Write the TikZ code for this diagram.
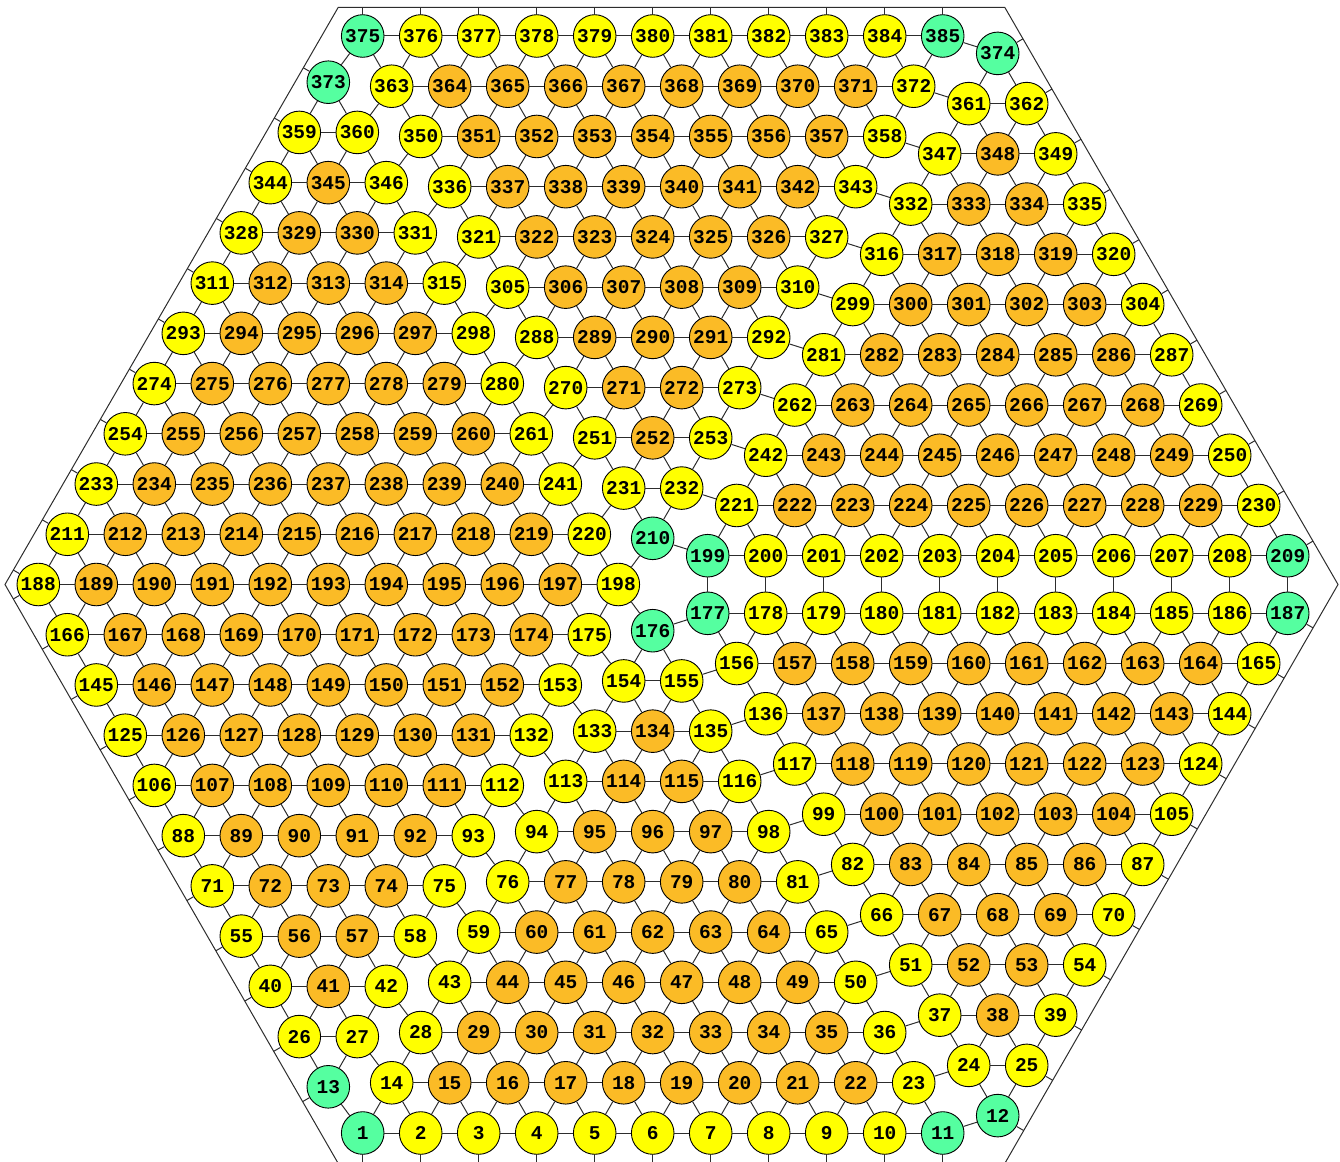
\documentclass[tikz,border=0pt]{standalone}
\usepackage{fontspec}
\setmonofont{Liberation Mono}
\usetikzlibrary{calc}
\definecolor{ycol}{RGB}{255,255,0}
\definecolor{ocol}{RGB}{251,187,38}
\definecolor{gcol}{RGB}{85,255,160}
\definecolor{ecol}{RGB}{45,45,45}
\tikzset{
  cnode/.style={circle,draw=black,line width=0.9pt,minimum size=42.6pt,inner sep=0pt,
    font=\ttfamily\bfseries\fontsize{19.5}{20}\selectfont},
  link/.style={draw=ecol,line width=1pt},
  hexline/.style={draw=ecol,line width=1pt},
}
\newcommand\pickcol[2]{%
  \ifnum#1=1 \def\fc{gcol}\else\ifnum#2=1 \def\fc{ycol}\else\def\fc{ocol}\fi\fi}
\newcommand\trilinks[1]{%
  \foreach \k in {0,...,9}{
    \pgfmathtruncatemacro\imax{10-\k}
    \pgfmathtruncatemacro\kk{\k+1}
    \foreach \i in {1,...,\imax}{
      \pgfmathtruncatemacro\ip{\i-1}
      \draw[link] (#1-\k-\ip) -- (#1-\k-\i);
      \draw[link] (#1-\k-\ip) -- (#1-\kk-\ip);
      \draw[link] (#1-\k-\i) -- (#1-\kk-\ip);
    }
  }}
\begin{document}
\begin{tikzpicture}[x=1pt,y=-1pt]
\useasboundingbox (0,0) rectangle (1340,1161);
\clip (0,0) rectangle (1340,1161);
\coordinate (H1) at (5,584.5);
\coordinate (H2) at (338.25,7.3);
\coordinate (H3) at (1004.75,7.3);
\coordinate (H4) at (1338,584.5);
\coordinate (H5) at (1004.75,1163.5);
\coordinate (H6) at (338.25,1163.5);
\draw[hexline] (H1) -- (H2) -- (H3) -- (H4) -- (H5) -- (H6) -- cycle;
% bottom sector
\foreach \k in {0,...,10}{
  \pgfmathtruncatemacro\imax{10-\k}
  \foreach \i in {0,...,\imax}{
    \pgfmathtruncatemacro\num{13+12*(\k-1)+\k*(\k-1)/2+\k+\i}
    \pgfmathtruncatemacro\cor{(\k==10)||((\k==0)&&((\i==0)||(\i==10)))}
    \pgfmathtruncatemacro\bnd{(\k==0)||(\i==0)||(\i==\imax)}
    \pickcol{\cor}{\bnd}
    \node[cnode,fill=\fc] (B-\k-\i) at ({362.7+29*\k+58*\i},{1133-50.23*\k}) {\num};
  }
}
% top sector
\foreach \k in {0,...,10}{
  \pgfmathtruncatemacro\imax{10-\k}
  \pgfmathtruncatemacro\mm{10-\k}
  \foreach \i in {0,...,\imax}{
    \pgfmathtruncatemacro\num{199+22*\mm-\mm*(\mm-1)/2+11-\mm+\i}
    \pgfmathtruncatemacro\cor{(\k==10)||((\k==0)&&((\i==0)||(\i==10)))}
    \pgfmathtruncatemacro\bnd{(\k==0)||(\i==0)||(\i==\imax)}
    \pickcol{\cor}{\bnd}
    \node[cnode,fill=\fc] (T-\k-\i) at ({362.7+29*\k+58*\i},{36+50.23*\k}) {\num};
  }
}
% upper right sector
\foreach \k in {0,...,10}{
  \pgfmathtruncatemacro\imax{10-\k}
  \foreach \i in {0,...,\imax}{
    \pgfmathtruncatemacro\num{199+22*\k-\k*(\k-1)/2+\i}
    \pgfmathtruncatemacro\cor{(\k==10)||((\k==0)&&((\i==0)||(\i==10)))}
    \pgfmathtruncatemacro\bnd{(\k==0)||(\i==0)||(\i==\imax)}
    \pickcol{\cor}{\bnd}
    \node[cnode,fill=\fc] (U-\k-\i) at ({707.7+29*\k+58*\i},{555.7-50.23*\k}) {\num};
  }
}
% lower right sector
\foreach \k in {0,...,10}{
  \pgfmathtruncatemacro\imax{10-\k}
  \pgfmathtruncatemacro\jj{10-\k}
  \foreach \i in {0,...,\imax}{
    \pgfmathtruncatemacro\num{13+12*(\jj-1)+\jj*(\jj-1)/2+11+\i}
    \pgfmathtruncatemacro\cor{(\k==10)||((\k==0)&&((\i==0)||(\i==10)))}
    \pgfmathtruncatemacro\bnd{(\k==0)||(\i==0)||(\i==\imax)}
    \pickcol{\cor}{\bnd}
    \node[cnode,fill=\fc] (R-\k-\i) at ({707.7+29*\k+58*\i},{613.3+50.23*\k}) {\num};
  }
}
% left rhombus
\foreach \q in {0,...,20}{
  \pgfmathtruncatemacro\a{abs(\q-10)}
  \pgfmathtruncatemacro\imax{10-\a}
  \pgfmathtruncatemacro\jj{21-\q}
  \pgfmathtruncatemacro\mm{9-\q}
  \foreach \i in {0,...,\imax}{
    \pgfmathtruncatemacro\num{\q>9 ? 13+12*(\jj-1)+\jj*(\jj-1)/2+\i : 211+22*\mm-\mm*(\mm-1)/2+\i}
    \pgfmathtruncatemacro\cor{(\q==0)||(\q==20)}
    \pgfmathtruncatemacro\bnd{(\i==0)||(\i==\imax)}
    \pickcol{\cor}{\bnd}
    \node[cnode,fill=\fc] (L-\q-\i) at ({38.3+29*\a+58*\i},{584.5+50.23*(\q-10)}) {\num};
  }
}
% links inside the triangles
\trilinks{B}
\trilinks{T}
\trilinks{U}
\trilinks{R}
% links inside the rhombus
\foreach \q in {1,...,19}{
  \pgfmathtruncatemacro\imax{10-abs(\q-10)}
  \foreach \i in {1,...,\imax}{
    \pgfmathtruncatemacro\ip{\i-1}
    \draw[link] (L-\q-\ip) -- (L-\q-\i);
  }
}
\foreach \q in {0,...,19}{
  \pgfmathtruncatemacro\qq{\q+1}
  \ifnum\q<10
    \foreach \i in {0,...,\q}{
      \pgfmathtruncatemacro\ii{\i+1}
      \draw[link] (L-\q-\i) -- (L-\qq-\i);
      \draw[link] (L-\q-\i) -- (L-\qq-\ii);
    }
  \else
    \pgfmathtruncatemacro\nn{19-\q}
    \foreach \i in {0,...,\nn}{
      \pgfmathtruncatemacro\ii{\i+1}
      \draw[link] (L-\q-\i) -- (L-\qq-\i);
      \draw[link] (L-\q-\ii) -- (L-\qq-\i);
    }
  \fi
}
% links between the parts
\foreach \k in {0,...,10}{
  \pgfmathtruncatemacro\cc{10-\k}
  \pgfmathtruncatemacro\qb{20-\k}
  \draw[link] (L-\k-\k) -- (T-\k-0);
  \draw[link] (L-\qb-\k) -- (B-\k-0);
  \draw[link] (T-\k-\cc) -- (U-\cc-0);
  \draw[link] (B-\k-\cc) -- (R-\cc-0);
  \draw[link] (U-0-\k) -- (R-0-\k);
}
% ticks to the border
\foreach \i in {0,...,10}{
  \pgfmathtruncatemacro\cc{10-\i}
  \pgfmathtruncatemacro\qq{10+\i}
  \draw[link] (T-0-\i) -- ($(H2)!(T-0-\i)!(H3)$);
  \draw[link] (B-0-\i) -- ($(H5)!(B-0-\i)!(H6)$);
  \draw[link] (U-\i-\cc) -- ($(H3)!(U-\i-\cc)!(H4)$);
  \draw[link] (R-\i-\cc) -- ($(H4)!(R-\i-\cc)!(H5)$);
  \draw[link] (L-\i-0) -- ($(H1)!(L-\i-0)!(H2)$);
  \draw[link] (L-\qq-0) -- ($(H6)!(L-\qq-0)!(H1)$);
}
\end{tikzpicture}
\end{document}
